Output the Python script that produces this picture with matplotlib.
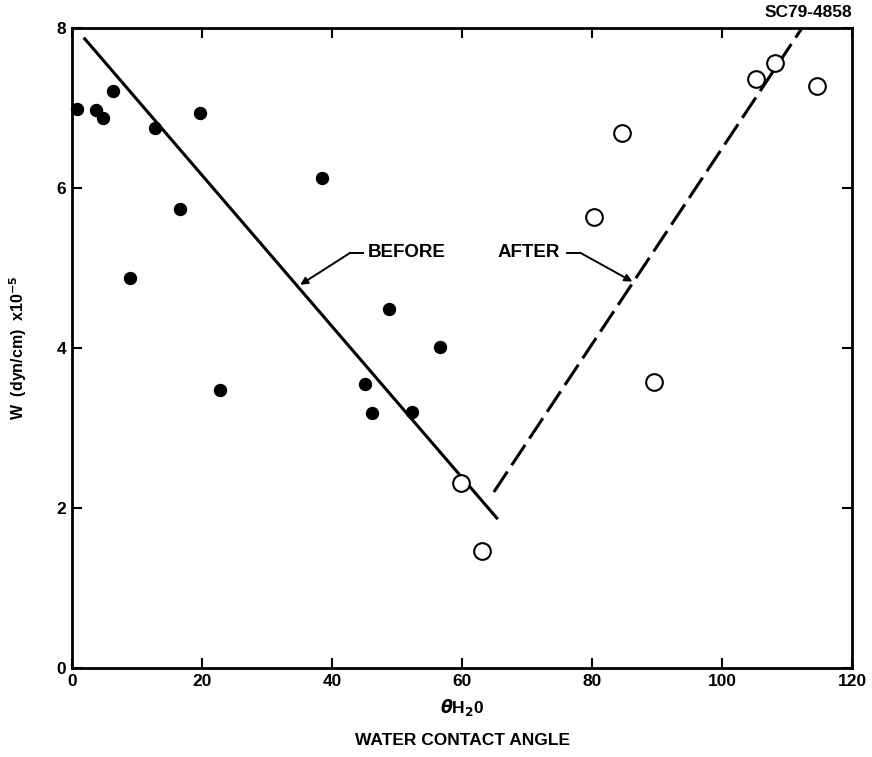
import matplotlib
matplotlib.use('Agg')
import matplotlib.pyplot as plt

plt.rcParams['font.family'] = ['Liberation Sans', 'DejaVu Sans']
plt.rcParams['font.weight'] = 'bold'

# measured points (before treatment, filled)
before_angle = [0.8, 3.7, 4.8, 6.3, 8.9, 12.8, 16.6, 19.7, 22.8, 38.5,
                45.1, 46.1, 48.8, 52.3, 56.6]
before_w = [6.99, 6.97, 6.87, 7.21, 4.88, 6.75, 5.74, 6.94, 3.48, 6.13,
            3.55, 3.19, 4.49, 3.20, 4.01]

# after treatment, open
after_angle = [59.8, 63.1, 80.3, 84.6, 89.5, 105.2, 108.2, 114.6]
after_w = [2.31, 1.46, 5.64, 6.69, 3.58, 7.36, 7.56, 7.28]

# fitted lines
before_fit_x = [1.8, 65.5]
before_fit_y = [7.88, 1.86]
after_fit_x = [64.9, 112.3]
after_fit_y = [2.2, 8.0]

xticks = [0, 20, 40, 60, 80, 100, 120]
yticks = [0, 2, 4, 6, 8]

fig = plt.figure(figsize=(8.72, 7.57), dpi=100)
ax = fig.add_axes([0.0826, 0.1176, 0.8945, 0.8454])

ax.plot(before_fit_x, before_fit_y, color='black', lw=2.2, solid_capstyle='butt')
ax.plot(after_fit_x, after_fit_y, color='black', lw=2.2, dashes=(8, 2.5),
        dash_capstyle='butt')

ax.plot(before_angle, before_w, 'o', color='black', ms=8.6, clip_on=False)
ax.plot(after_angle, after_w, 'o', mfc='white', mec='black', mew=1.5, ms=12,
        clip_on=False)


def label_arrow(text, text_x, text_y, line_x, tip):
    # text, short horizontal leader, then arrow down to the line
    ax.text(text_x, text_y, text, fontsize=13.5, fontweight='bold',
            va='center', ha='left')
    ax.plot(line_x, [text_y, text_y], color='black', lw=1.4)
    ax.annotate('', xy=tip, xytext=(line_x[1], text_y),
                arrowprops=dict(arrowstyle='-|>', color='black', lw=1.4,
                                mutation_scale=11, shrinkA=0, shrinkB=0))


label_arrow('BEFORE', 45.5, 5.19, [44.8, 42.8], (35.1, 4.79))
label_arrow('AFTER', 65.5, 5.19, [76.2, 78.2], (86.2, 4.83))

ax.set_xlim(0, 120)
ax.set_ylim(0, 8)
ax.set_xticks(xticks)
ax.set_yticks(yticks)
ax.tick_params(direction='in', length=7, width=1.5, top=True, right=True,
               labelsize=12.5, pad=4)
for lab in ax.get_xticklabels() + ax.get_yticklabels():
    lab.set_fontweight('bold')
for s in ax.spines.values():
    s.set_linewidth(2)

ax.set_xlabel(r'$\theta$H$_2$0' + '\nWATER CONTACT ANGLE', fontsize=12.5,
              fontweight='bold', linespacing=2.3, labelpad=6)
ax.set_ylabel(r'W  (dyn/cm)  x10$^{\mathbf{-5}}$', fontsize=11.5,
              fontweight='bold', labelpad=20)

fig.text(0.977, 0.984, 'SC79-4858', ha='right', va='center', fontsize=12.5,
         fontweight='bold')

fig.savefig('out.png', dpi=100)
